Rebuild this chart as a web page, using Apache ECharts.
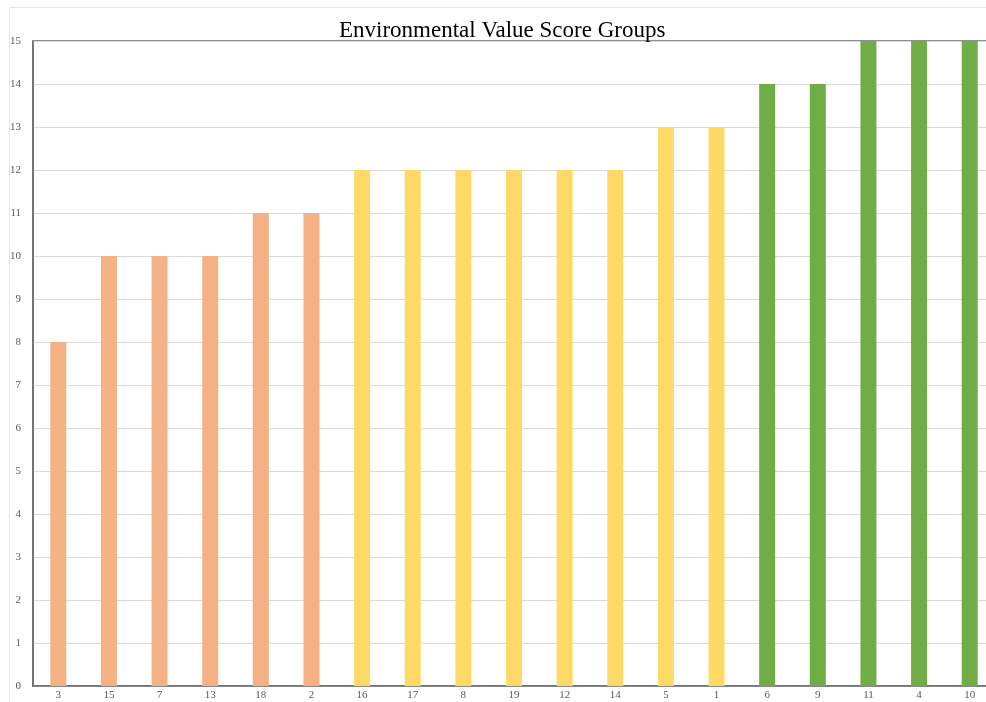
<!DOCTYPE html>
<html>
<head>
<meta charset="utf-8">
<script src="https://cdn.jsdelivr.net/npm/echarts@6/dist/echarts.min.js"></script>
<style>
  html, body { margin: 0; padding: 0; background: #fff; }
  #chart { width: 986px; height: 702px; }
</style>
</head>
<body>
<div id="chart"></div>
<script>
var categories = ['3', '15', '7', '13', '18', '2', '16', '17', '8', '19', '12', '14', '5', '1', '6', '9', '11', '4', '10'];
var scores = [8, 10, 10, 10, 11, 11, 12, 12, 12, 12, 12, 12, 13, 13, 14, 14, 15, 15, 15];
// 0 = low, 1 = middle, 2 = high
var groups = [0, 0, 0, 0, 0, 0, 1, 1, 1, 1, 1, 1, 1, 1, 2, 2, 2, 2, 2];
var yTicks = [0, 15, 1];

var groupColors = ['#F4B183', '#FFD966', '#70AD47'];

var chart = echarts.init(document.getElementById('chart'));

var option = {
  backgroundColor: '#fff',
  animation: false,
  title: {
    text: 'Environmental Value Score Groups',
    left: 334,
    top: 14,
    textStyle: {
      fontFamily: 'Liberation Serif',
      fontWeight: 'normal',
      fontSize: 23,
      color: '#000'
    }
  },
  graphic: [{
    type: 'rect',
    shape: { x: 9.5, y: 7.5, width: 990, height: 720 },
    style: { fill: 'none', stroke: '#e6e6e6', lineWidth: 1 },
    silent: true
  }],
  grid: {
    left: 33,
    right: -9,
    top: 41,
    bottom: 16,
    outerBoundsMode: 'none',
    containLabel: false,
    show: true,
    borderColor: '#6b6b6b',
    borderWidth: 1.5
  },
  xAxis: {
    type: 'category',
    data: categories,
    axisLine: { lineStyle: { color: '#6b6b6b', width: 1.5 } },
    axisTick: { show: false },
    axisLabel: {
      fontFamily: 'Liberation Serif',
      fontSize: 11,
      color: '#595959',
      margin: 4
    }
  },
  yAxis: {
    type: 'value',
    min: yTicks[0],
    max: yTicks[1],
    interval: yTicks[2],
    axisLine: { show: true, lineStyle: { color: '#6b6b6b', width: 1.5 } },
    axisTick: { show: false },
    splitLine: { lineStyle: { color: '#d9d9d9', width: 1 } },
    axisLabel: {
      fontFamily: 'Liberation Serif',
      fontSize: 11,
      color: '#595959',
      margin: 12
    }
  },
  series: [{
    type: 'bar',
    barWidth: 16,
    data: scores.map(function (v, i) {
      return { value: v, itemStyle: { color: groupColors[groups[i]] } };
    })
  }]
};

chart.setOption(option);
</script>
</body>
</html>
